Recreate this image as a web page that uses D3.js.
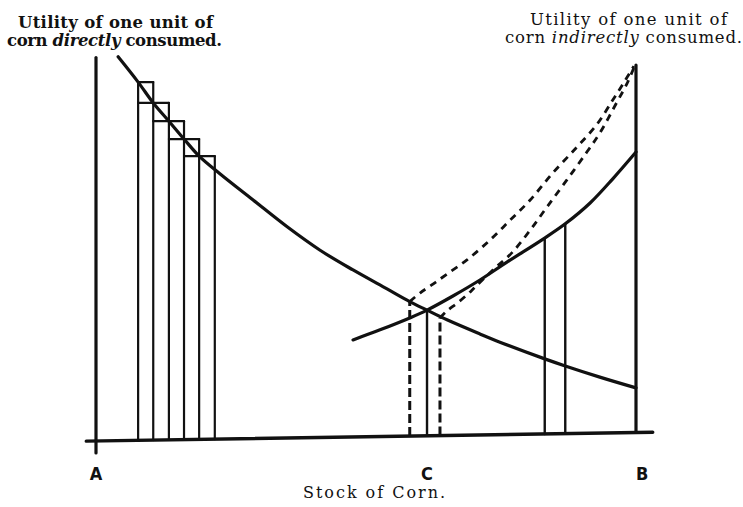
<!DOCTYPE html>
<html>
<head>
<meta charset="utf-8">
<script src="https://cdn.jsdelivr.net/npm/d3@7"></script>
<style>
  body { margin: 0; background: #fff; }
  svg { display: block; }
</style>
</head>
<body>
<div id="chart"></div>
<script>
// Utility of corn directly consumed (falls as the stock grows from A)
const directX = [4.1, 7.8, 10.6, 13.5, 16.3, 19.1, 23.0, 29.1, 35.4, 41.5, 47.6, 53.9, 58.1, 61.3, 65.0, 71.1, 74.8, 83.1, 86.9, 93.3, 100];
const directY = [102.2, 95.4, 89.8, 84.9, 80.1, 75.5, 70.7, 63.7, 56.5, 50.2, 44.9, 39.8, 36.4, 34.1, 31.5, 27.7, 25.5, 21.0, 19.1, 16.1, 13.2];

// Utility of corn indirectly consumed (rises towards B)
const indirectX = [47.6, 52.6, 58.1, 61.3, 66.1, 71.1, 76.1, 82.8, 86.9, 91.5, 95.7, 100];
const indirectY = [26.1, 28.8, 32.0, 34.1, 37.9, 42.2, 47.0, 53.2, 57.3, 62.9, 69.4, 76.6];

// Shifted indirect-utility curves (dashed)
const upperShiftX = [58.1, 60.0, 62.4, 65.0, 68.7, 73.0, 76.7, 80.4, 84.6, 89.1, 92.8, 95.7, 97.6, 99.6];
const upperShiftY = [36.4, 38.7, 41.1, 43.8, 47.6, 53.0, 58.3, 63.7, 71.0, 78.0, 84.1, 90.6, 94.9, 99.7];
const lowerShiftX = [63.7, 65.0, 66.9, 68.7, 70.2, 73.5, 77.0, 80.4, 83.5, 87.2, 90.9, 93.3, 96.5, 98.3, 99.6];
const lowerShiftY = [32.0, 33.9, 36.0, 38.2, 40.3, 44.9, 49.5, 55.6, 61.8, 69.1, 76.6, 81.7, 90.1, 94.9, 99.2];

// Unit bars under the direct curve
const barEdges = [7.8, 10.6, 13.5, 16.3, 19.1, 22.0];
const barTops = [95.4, 89.8, 84.9, 80.1, 75.5];

// Ordinates dropped to the stock axis
const solidDropX = [61.3, 83.1, 86.9];
const solidDropTop = [34.1, 53.4, 57.3];
const dashedDropX = [58.1, 63.7];
const dashedDropTop = [36.4, 32.0];

// Axis extents and point labels
const axisTop = 102;
const stockRange = [-1.8, 103.1];
const pointLabels = ["A", "C", "B"];
const pointStock = [0, 61.3, 100];

var width = 743;
var height = 507;

var svg = d3
  .select("#chart")
  .append("svg")
  .attr("width", width)
  .attr("height", height);

// Scales
var x = d3.scaleLinear().domain([0, 100]).range([96, 636]);
var y = d3.scaleLinear().domain([0, 100]).range([437, 65]);
// the printed stock axis sags slightly to the left
var baseY = d3.scaleLinear().domain([0, 100]).range([441, 432.5]);

var ink = "#111";

function seg(x1, y1, x2, y2, w, dash) {
  var l = svg
    .append("line")
    .attr("x1", x1)
    .attr("y1", y1)
    .attr("x2", x2)
    .attr("y2", y2)
    .attr("stroke", ink)
    .attr("stroke-width", w)
    .attr("stroke-linecap", "round");
  if (dash) l.attr("stroke-dasharray", dash).attr("stroke-linecap", "butt");
  return l;
}

// Bars: vertical edges then the two staircases of tops
barEdges.forEach(function (e, i) {
  var top = i === 0 ? barTops[0] : barTops[Math.min(i - 1, barTops.length - 1)];
  seg(x(e), baseY(e), x(e), y(top), 2.2);
});
barTops.forEach(function (t, j) {
  var from = barEdges[Math.max(j - 1, 0)];
  seg(x(from), y(t), x(barEdges[j + 1]), y(t), 2.2);
});

// Dropped ordinates
solidDropX.forEach(function (d, i) {
  seg(x(d), baseY(d), x(d), y(solidDropTop[i]), 2.4);
});
dashedDropX.forEach(function (d, i) {
  seg(x(d), baseY(d), x(d), y(dashedDropTop[i]), 3, "9,4");
});

// Curves
var line = d3
  .line()
  .x((d) => x(d[0]))
  .y((d) => y(d[1]))
  .curve(d3.curveCatmullRom);

function drawCurve(xs, ys, w, dash) {
  var p = svg
    .append("path")
    .datum(xs.map((v, i) => [v, ys[i]]))
    .attr("d", line)
    .attr("fill", "none")
    .attr("stroke", ink)
    .attr("stroke-width", w)
    .attr("stroke-linecap", "round");
  if (dash) p.attr("stroke-dasharray", dash).attr("stroke-linecap", "butt");
}

drawCurve(upperShiftX, upperShiftY, 2.8, "7,6");
drawCurve(lowerShiftX, lowerShiftY, 2.8, "7,6");
drawCurve(directX, directY, 3.2);
drawCurve(indirectX, indirectY, 3.2);

// Axes
seg(x(0), y(axisTop), x(0), baseY(0) + 12, 3.2);
seg(x(100), y(100), x(100), baseY(100), 3.2);
seg(x(stockRange[0]), baseY(stockRange[0]), x(stockRange[1]), baseY(stockRange[1]), 3.4);

// Point labels under the stock axis
var anchors = ["middle", "middle", "start"];
svg
  .selectAll("text.pt")
  .data(pointLabels)
  .enter()
  .append("text")
  .attr("class", "pt")
  .attr("x", (d, i) => x(pointStock[i]))
  .attr("y", 480)
  .attr("text-anchor", (d, i) => anchors[i])
  .attr("font-family", "'Liberation Sans Narrow', 'DejaVu Sans Condensed', 'Liberation Sans', sans-serif")
  .attr("font-weight", "bold")
  .attr("font-size", "18px")
  .attr("fill", ink)
  .text((d) => d);

// Titles
var serif = "'DejaVu Serif', serif";

function caption(x0, yb, len, parts, weight, size) {
  var t = svg
    .append("text")
    .attr("x", x0)
    .attr("y", yb)
    .attr("font-family", serif)
    .attr("font-size", size || "16.5px")
    .attr("font-weight", weight)
    .attr("fill", ink)
    .attr("textLength", len)
    .attr("lengthAdjust", "spacing");
  parts.forEach(function (p) {
    t.append("tspan")
      .attr("font-style", p[1] ? "italic" : "normal")
      .text(p[0]);
  });
}

caption(18, 28, 195, [["Utility of one unit of", false]], "bold");
caption(7, 46, 215, [["corn ", false], ["directly", true], [" consumed.", false]], "bold");
caption(530, 25, 197, [["Utility of one unit of", false]], "normal");
caption(505, 43, 237, [["corn ", false], ["indirectly", true], [" consumed.", false]], "normal");
caption(303, 498, 142, [["Stock of Corn.", false]], "normal", "16px");
</script>
</body>
</html>
